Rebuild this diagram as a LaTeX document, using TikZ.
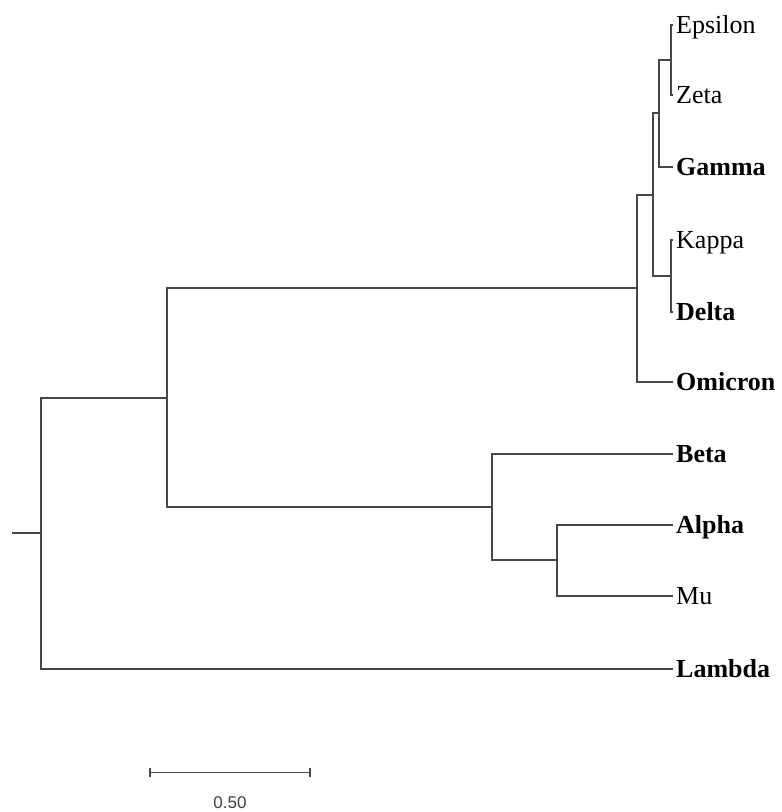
\documentclass[tikz,border=0pt]{standalone}
\usepackage{fontspec}
\setmainfont{Liberation Serif}
\newfontfamily\scalefont{Liberation Sans}
\begin{document}
\begin{tikzpicture}[x=1pt,y=1pt,
  branch/.style={draw=black!72,line width=1.4pt},
  leaf/.style={anchor=west,inner xsep=3pt,inner ysep=0pt,text height=22.4pt,text depth=5.2pt,font=\fontsize{26}{30}\selectfont},
  bleaf/.style={leaf,font=\fontsize{26}{30}\selectfont\bfseries},
  scalelabel/.style={inner sep=0pt,text=black!75,font=\scalefont\fontsize{17}{20}\selectfont}]
\useasboundingbox (0,0) rectangle (782,-812);
% leaves
\node[leaf]  (eps) at (673,-25)    {Epsilon};
\node[leaf]  (zet) at (673,-95)    {Zeta};
\node[bleaf] (gam) at (673,-167)   {Gamma};
\node[leaf]  (kap) at (673,-240)   {Kappa};
\node[bleaf] (del) at (673,-312)   {Delta};
\node[bleaf] (omi) at (673,-382)   {Omicron};
\node[bleaf] (bet) at (673,-454)   {Beta};
\node[bleaf] (alp) at (673,-525)   {Alpha};
\node[leaf]  (mu)  at (673,-596)   {Mu};
\node[bleaf] (lam) at (673,-669)   {Lambda};
% internal nodes
\coordinate (ez)    at (671,-60);
\coordinate (ezg)   at (659,-113);
\coordinate (kd)    at (671,-276);
\coordinate (ezgkd) at (653,-195);
\coordinate (top)   at (637,-288);
\coordinate (am)    at (557,-560);
\coordinate (bam)   at (492,-507);
\coordinate (up)    at (167,-398);
\coordinate (root)  at (41,-533);
\coordinate (stub)  at (12,-533);
% branches
\path[branch] (ez) |- (eps.west);
\path[branch] (ez) |- (zet.west);
\path[branch] (ezg) |- (ez);
\path[branch] (ezg) |- (gam.west);
\path[branch] (kd) |- (kap.west);
\path[branch] (kd) |- (del.west);
\path[branch] (ezgkd) |- (ezg);
\path[branch] (ezgkd) |- (kd);
\path[branch] (top) |- (ezgkd);
\path[branch] (top) |- (omi.west);
\path[branch] (am) |- (alp.west);
\path[branch] (am) |- (mu.west);
\path[branch] (bam) |- (bet.west);
\path[branch] (bam) |- (am);
\path[branch] (up) |- (top);
\path[branch] (up) |- (bam);
\path[branch] (root) |- (up);
\path[branch] (root) |- (lam.west);
\path[branch] (stub) -- (root);
% scale bar
\coordinate (sba) at (150,-772.7);
\coordinate (sbb) at (310,-772.7);
\path[branch] (sba) -- (sbb);
\path[branch] ([yshift=4.5pt]sba) -- ([yshift=-4.5pt]sba);
\path[branch] ([yshift=4.5pt]sbb) -- ([yshift=-4.5pt]sbb);
\node[scalelabel] (sbl) at (230,-802.7) {0.50};
\end{tikzpicture}
\end{document}
